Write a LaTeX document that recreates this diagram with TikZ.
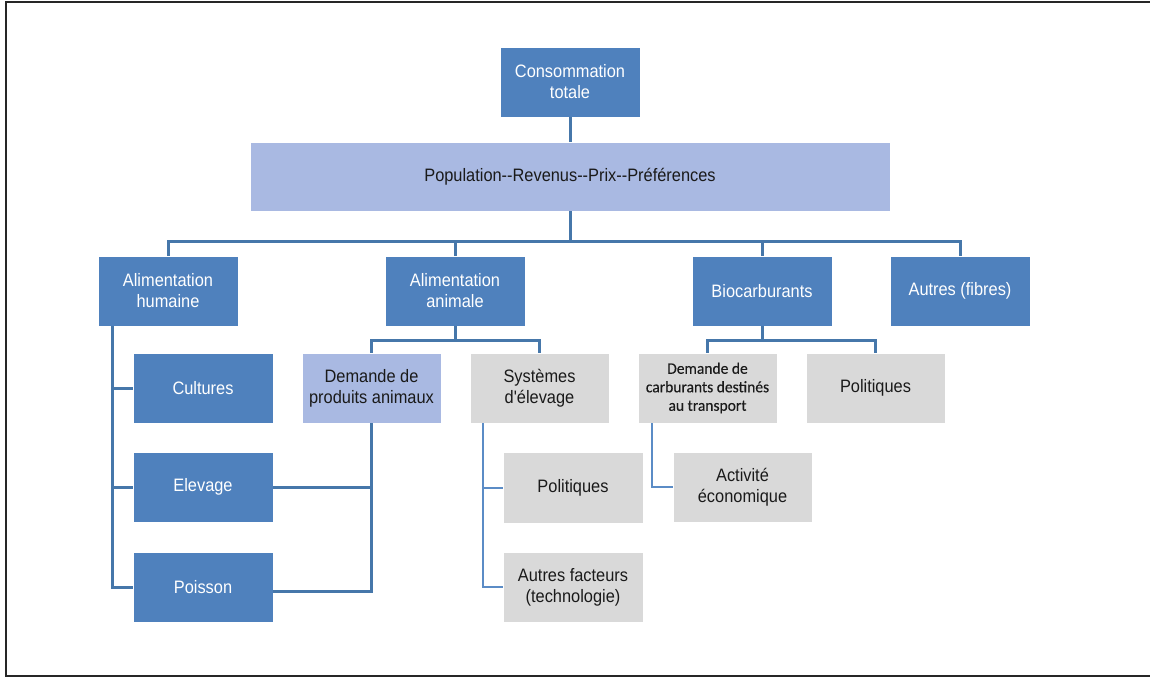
\documentclass[tikz,border=0pt]{standalone}
\usepackage{fontspec}
\newfontfamily\arialf{Liberation Sans}[FakeStretch=0.91,Ligatures=TeXOff]
\newfontfamily\calf{Carlito}[FakeStretch=0.97,FakeBold=0.25,Ligatures=TeXOff]
\definecolor{boxblue}{HTML}{4F81BD}
\definecolor{boxlight}{HTML}{A9B9E2}
\definecolor{boxgrey}{HTML}{D9D9D9}
\definecolor{linkblue}{HTML}{4677AA}
\definecolor{linkthin}{HTML}{5B8CC6}
\definecolor{inkdark}{HTML}{1A1A1A}
\tikzset{
  base/.style={rectangle, inner sep=2pt, align=center,
    font=\arialf\fontsize{18}{21}\selectfont, draw=white, line width=0.6pt},
  bluebox/.style={base, fill=boxblue, text=white},
  lightbox/.style={base, fill=boxlight, text=inkdark},
  greybox/.style={base, fill=boxgrey, text=inkdark},
  conn/.style={draw=linkblue, line width=3pt},
  connthin/.style={draw=linkthin, line width=2pt},
}
% box from its corner coordinates: name, x1, y1, x2, y2, style, text
\newcommand\bx[7]{%
  \node[#6, minimum width={#4pt-#2pt}, minimum height={#5pt-#3pt}]
    (#1) at ({(#2+#4)/2},{(#3+#5)/2}) {#7};}
\begin{document}
\begin{tikzpicture}[x=1pt,y=-1pt]
\useasboundingbox (0,0) rectangle (1150,677);
% frame
\draw[line width=2pt, draw=black!85] (1150,2) -- (6,2) -- (6,676) -- (1150,676);

% boxes
\bx{cons}{500}{47}{640}{117}{bluebox}{Consommation\\totale}
\bx{pop}{250}{142}{890}{211}{lightbox}{Population--Revenus--Prix--Préférences}
\bx{ah}{98}{256}{238}{326}{bluebox}{Alimentation\\humaine}
\bx{aa}{385}{256}{525}{326}{bluebox}{Alimentation\\animale}
\bx{bio}{692}{256}{832}{326}{bluebox}{Biocarburants}
\bx{autf}{890}{256}{1030}{326}{bluebox}{Autres (fibres)}
\bx{cult}{133}{353}{273}{423}{bluebox}{Cultures}
\bx{elev}{133}{452}{273}{522}{bluebox}{Elevage}
\bx{pois}{133}{552}{273}{622}{bluebox}{Poisson}
\bx{dpa}{302}{353}{441}{423}{lightbox}{Demande de\\produits animaux}
\bx{sys}{470}{353}{609}{423}{greybox}{Systèmes\\d'élevage}
\bx{polA}{503}{452}{643}{523}{greybox}{Politiques}
\bx{autfac}{503}{552}{643}{622}{greybox}{Autres facteurs\\(technologie)}
\bx{carb}{638}{353}{777}{423}{greybox}{}
\node[font=\calf\fontsize{16}{18.5}\selectfont, text=inkdark, align=center]
  (carbtxt) at (carb.center) {Demande de\\carburants destinés\\au transport};
\bx{polB}{806}{353}{945}{423}{greybox}{Politiques}
\bx{act}{673}{452}{812}{522}{greybox}{Activité\\économique}

% connection points
\coordinate (bus) at (570,241);
\coordinate (aabus) at (455,340);
\coordinate (biobus) at (762,340);
\coordinate (ahtrunk) at (112,326);
\coordinate (systrunk) at (483,423);
\coordinate (carbtrunk) at (652,423);

% connectors
\draw[conn] (cons.south) -- (pop.north);
\draw[conn] (pop.south) -- (bus);
\draw[conn] (ah.north) |- (bus) -| (autf.north);
\draw[conn] (aa.north) |- (bus);
\draw[conn] (bio.north) |- (bus);
\draw[conn] (ahtrunk) |- (pois.west);
\draw[conn] (ahtrunk) |- (cult.west);
\draw[conn] (ahtrunk) |- (elev.west);
\draw[conn] (aa.south) -- (aabus);
\draw[conn] (dpa.north) |- (aabus) -| (sys.north);
\draw[conn] (bio.south) -- (biobus);
\draw[conn] (carb.north) |- (biobus) -| (polB.north);
\draw[conn] (elev.east) -| (dpa.south);
\draw[conn] ([yshift=-4pt]pois.east) -| (dpa.south);
\draw[connthin] (systrunk) |- (polA.west);
\draw[connthin] (systrunk) |- (autfac.west);
\draw[connthin] (carbtrunk) |- (act.west);
\end{tikzpicture}
\end{document}
